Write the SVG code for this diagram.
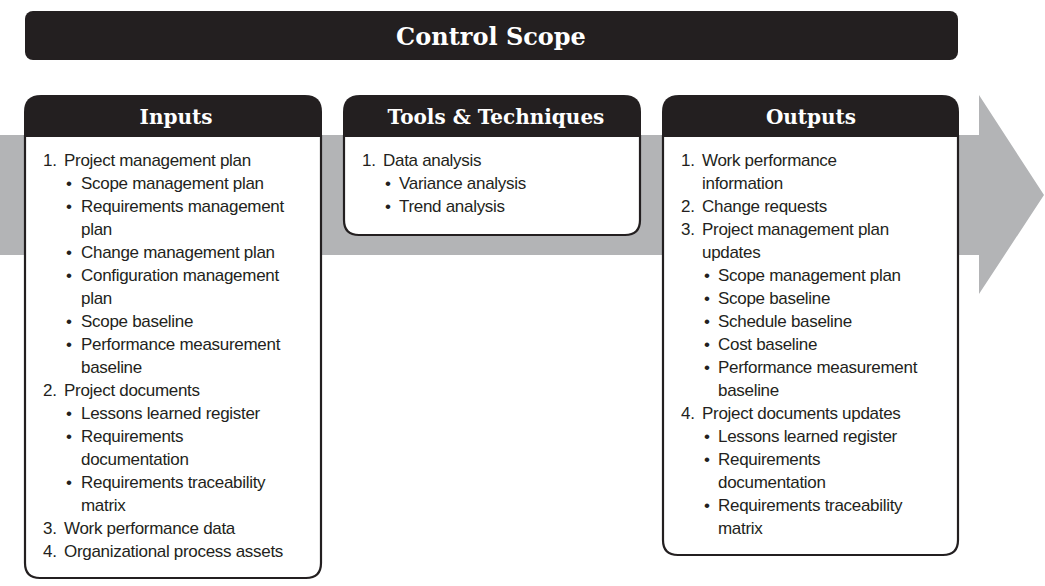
<svg xmlns="http://www.w3.org/2000/svg" width="1045" height="586" viewBox="0 0 1045 586">
  <style>
    .hd { font-family: "DejaVu Serif", "Liberation Serif", serif; font-weight: bold; fill: #ffffff; text-anchor: middle; }
    .tx { font-family: "Liberation Sans", Arial, sans-serif; font-size: 17px; letter-spacing: -0.3px; fill: #231f20; }
    .box { fill: #ffffff; stroke: #231f20; stroke-width: 2.2; }
    .cap { fill: #231f20; }
  </style>

  <!-- process flow arrow behind the three panels -->
  <g id="flow-arrow">
    <polygon points="0,135 979,135 979,95 1044,195 979,294 979,255 0,255" fill="#b3b4b6"/>
  </g>

  <!-- title bar -->
  <g id="title">
    <rect x="25" y="11" width="933" height="49" rx="8" fill="#231f20"/>
    <text class="hd" x="491" y="45" font-size="24">Control Scope</text>
  </g>

  <g id="connectors"></g>

  <!-- Inputs panel -->
  <g id="inputs">
    <path class="box" d="M25,136 V563 Q25,578 40,578 H306 Q321,578 321,563 V136 Z"/>
    <path class="cap" d="M24,137 V112 Q24,95 41,95 H305 Q322,95 322,112 V137 Z"/>
    <text class="hd" x="176" y="124" font-size="20">Inputs</text>
    <g class="tx">
      <text x="43" y="166">1.</text><text x="64" y="166">Project management plan</text>
      <text x="66" y="189">•</text><text x="81" y="189">Scope management plan</text>
      <text x="66" y="212">•</text><text x="81" y="212">Requirements management</text>
      <text x="81" y="235">plan</text>
      <text x="66" y="258">•</text><text x="81" y="258">Change management plan</text>
      <text x="66" y="281">•</text><text x="81" y="281">Configuration management</text>
      <text x="81" y="304">plan</text>
      <text x="66" y="327">•</text><text x="81" y="327">Scope baseline</text>
      <text x="66" y="350">•</text><text x="81" y="350">Performance measurement</text>
      <text x="81" y="373">baseline</text>
      <text x="43" y="396">2.</text><text x="64" y="396">Project documents</text>
      <text x="66" y="419">•</text><text x="81" y="419">Lessons learned register</text>
      <text x="66" y="442">•</text><text x="81" y="442">Requirements</text>
      <text x="81" y="465">documentation</text>
      <text x="66" y="488">•</text><text x="81" y="488">Requirements traceability</text>
      <text x="81" y="511">matrix</text>
      <text x="43" y="534">3.</text><text x="64" y="534">Work performance data</text>
      <text x="43" y="557">4.</text><text x="64" y="557">Organizational process assets</text>
    </g>
  </g>

  <!-- Tools & Techniques panel -->
  <g id="tools">
    <path class="box" d="M344,136 V220 Q344,235 359,235 H625 Q640,235 640,220 V136 Z"/>
    <path class="cap" d="M343,137 V112 Q343,95 360,95 H624 Q641,95 641,112 V137 Z"/>
    <text class="hd" x="496" y="124" font-size="20">Tools &amp; Techniques</text>
    <g class="tx">
      <text x="362" y="166">1.</text><text x="383" y="166">Data analysis</text>
      <text x="385" y="189">•</text><text x="399" y="189">Variance analysis</text>
      <text x="385" y="212">•</text><text x="399" y="212">Trend analysis</text>
    </g>
  </g>

  <!-- Outputs panel -->
  <g id="outputs">
    <path class="box" d="M663,136 V540 Q663,555 678,555 H943 Q958,555 958,540 V136 Z"/>
    <path class="cap" d="M662,137 V112 Q662,95 679,95 H942 Q959,95 959,112 V137 Z"/>
    <text class="hd" x="811" y="124" font-size="20">Outputs</text>
    <g class="tx">
      <text x="681" y="166">1.</text><text x="702" y="166">Work performance</text>
      <text x="702" y="189">information</text>
      <text x="681" y="212">2.</text><text x="702" y="212">Change requests</text>
      <text x="681" y="235">3.</text><text x="702" y="235">Project management plan</text>
      <text x="702" y="258">updates</text>
      <text x="704" y="281">•</text><text x="718" y="281">Scope management plan</text>
      <text x="704" y="304">•</text><text x="718" y="304">Scope baseline</text>
      <text x="704" y="327">•</text><text x="718" y="327">Schedule baseline</text>
      <text x="704" y="350">•</text><text x="718" y="350">Cost baseline</text>
      <text x="704" y="373">•</text><text x="718" y="373">Performance measurement</text>
      <text x="718" y="396">baseline</text>
      <text x="681" y="419">4.</text><text x="702" y="419">Project documents updates</text>
      <text x="704" y="442">•</text><text x="718" y="442">Lessons learned register</text>
      <text x="704" y="465">•</text><text x="718" y="465">Requirements</text>
      <text x="718" y="488">documentation</text>
      <text x="704" y="511">•</text><text x="718" y="511">Requirements traceability</text>
      <text x="718" y="534">matrix</text>
    </g>
  </g>
</svg>
